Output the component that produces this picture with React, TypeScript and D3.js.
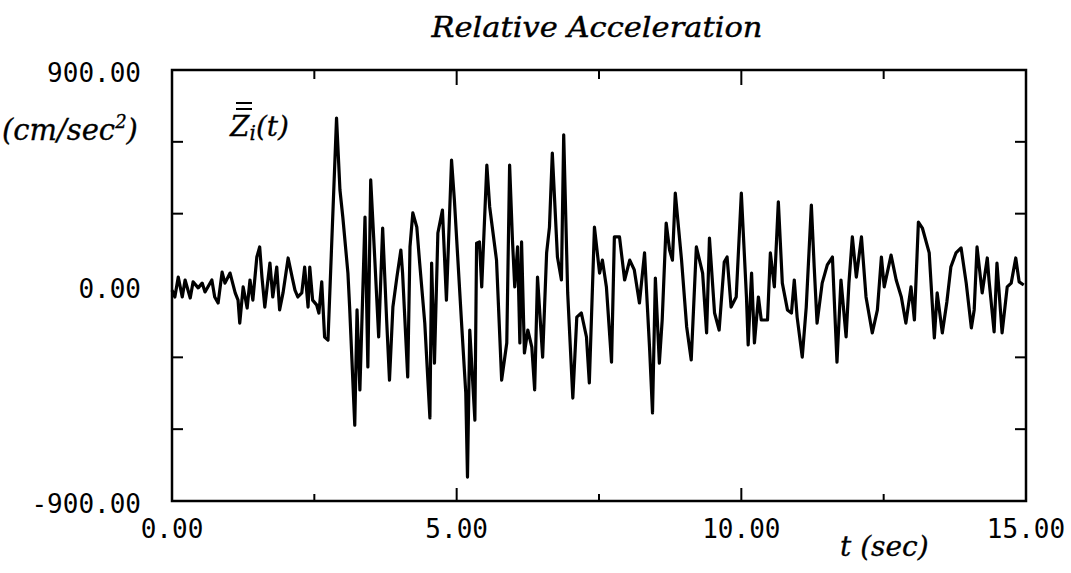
import React from "react";
import * as d3 from "d3";

// time (sec) of each read-off point
const times: number[] = [
  0.0, 0.05, 0.11, 0.18, 0.23, 0.32, 0.37, 0.46, 0.53, 0.58, 0.7, 0.75, 0.81, 0.88, 0.93, 1.02, 1.11, 1.16, 1.19, 1.25,
  1.32, 1.37, 1.42, 1.49, 1.54, 1.58, 1.63, 1.72, 1.77, 1.84, 1.89, 1.95, 2.04, 2.11, 2.16, 2.21, 2.28, 2.33, 2.39, 2.42,
  2.47, 2.54, 2.58, 2.63, 2.68, 2.74, 2.89, 2.95, 3.0, 3.09, 3.12, 3.21, 3.25, 3.3, 3.39, 3.44, 3.49, 3.56, 3.63, 3.7,
  3.77, 3.82, 3.88, 3.95, 4.02, 4.05, 4.14, 4.18, 4.23, 4.3, 4.35, 4.44, 4.53, 4.56, 4.61, 4.67, 4.75, 4.82, 4.91, 4.96,
  5.09, 5.16, 5.19, 5.23, 5.32, 5.35, 5.4, 5.44, 5.53, 5.58, 5.7, 5.79, 5.88, 5.93, 5.98, 6.02, 6.07, 6.11, 6.14, 6.19,
  6.25, 6.32, 6.37, 6.42, 6.51, 6.58, 6.63, 6.68, 6.77, 6.84, 6.88, 6.95, 7.04, 7.11, 7.19, 7.28, 7.33, 7.42, 7.51, 7.56,
  7.63, 7.72, 7.77, 7.86, 7.95, 8.04, 8.12, 8.21, 8.3, 8.39, 8.44, 8.49, 8.56, 8.61, 8.68, 8.74, 8.79, 8.84, 8.95, 9.04,
  9.12, 9.21, 9.32, 9.39, 9.44, 9.53, 9.61, 9.7, 9.75, 9.82, 9.91, 10.0, 10.09, 10.12, 10.18, 10.23, 10.3, 10.35, 10.46, 10.51,
  10.58, 10.65, 10.72, 10.81, 10.88, 10.93, 10.98, 11.07, 11.14, 11.23, 11.28, 11.33, 11.42, 11.51, 11.6, 11.68, 11.75, 11.84, 11.89, 11.95,
  12.02, 12.11, 12.19, 12.3, 12.39, 12.46, 12.51, 12.63, 12.72, 12.81, 12.89, 12.98, 13.04, 13.11, 13.18, 13.3, 13.39, 13.44, 13.53, 13.61,
  13.68, 13.77, 13.86, 13.95, 14.04, 14.09, 14.14, 14.23, 14.32, 14.35, 14.44, 14.49, 14.58, 14.67, 14.74, 14.82, 14.88, 14.96,
];

// relative acceleration (cm/sec^2) at each time
const accel: number[] = [
  -19, -48, 35, -48, 23, -52, 15, -10, 10, -27, 23, -48, -73, 56, 10, 52, -31, -61, -157, -6,
  -94, 23, -61, 119, 161, 35, -90, 94, -48, 77, -102, -31, 115, 35, -19, -48, -31, 77, -90, 77,
  -61, -81, -115, 15, -215, -228, 699, 399, 286, 52, -90, -583, -102, -436, 286, -340, 441, 119, -215, 240,
  -144, -395, -90, 35, 148, 52, -382, 161, 303, 244, 94, -157, -553, 94, -324, 219, 315, -61, 524, 357,
  -173, -449, -800, -186, -562, 177, 182, -6, 503, 328, 106, -395, -240, 503, 190, -6, 161, -240, 182, -282,
  -186, -257, -436, 35, -299, 136, 244, 553, 119, 23, 629, -31, -470, -132, -115, -215, -407, 244, 52, 106,
  -6, -320, 203, 203, 23, 106, 65, -73, 136, -270, -532, 31, -324, -144, 261, 148, 106, 386, 106, -173,
  -311, 161, 52, -198, 198, -115, -186, 98, 119, -90, -48, 386, -48, -248, 52, -240, -48, -144, -144, 136,
  -6, 349, 10, -102, -115, 23, -132, -299, -90, 336, 77, -157, 10, 86, 119, -320, 23, -215, 10, 203,
  35, 203, -48, -198, -102, 119, -6, 127, 23, -48, -157, -6, -144, 265, 240, 136, -219, -31, -198, -69,
  77, 136, 157, 10, -177, -102, 161, -31, 115, 23, -194, 94, -198, -6, 10, 115, 15, 2,
];

const xTickValues: number[] = [0, 2.5, 5, 7.5, 10, 12.5, 15];
const xTickLabels: { v: number; label: string }[] = [
  { v: 0, label: "0.00" },
  { v: 5, label: "5.00" },
  { v: 10, label: "10.00" },
  { v: 15, label: "15.00" },
];
const yTickValues: number[] = [-600, -300, 300, 600];
const yTickLabels: { v: number; label: string }[] = [
  { v: 900, label: "900.00" },
  { v: 0, label: "0.00" },
  { v: -900, label: "-900.00" },
];

const W = 1071;
const H = 573;
const L = 172;
const R = 1026;
const T = 70;
const B = 501;

export default function App() {
  const x = d3.scaleLinear().domain([0, 15]).range([L, R]);
  const y = d3.scaleLinear().domain([-900, 900]).range([B, T]);
  const data = times.map((t, i) => [t, accel[i]] as [number, number]);
  const line = d3
    .line<[number, number]>()
    .x((d) => x(d[0]))
    .y((d) => y(d[1]));

  const mono = "'DejaVu Sans Mono', monospace";
  const serif = "'DejaVu Serif', serif";

  return (
    <svg width={W} height={H} style={{ position: "absolute", left: 0, top: 0, background: "#fff" }}>
      <rect x={0} y={0} width={W} height={H} fill="#fff" />
      {/* title */}
      <text x={597} y={37} textAnchor="middle" fontFamily={serif} fontStyle="italic" fontSize={28} textLength={331} lengthAdjust="spacingAndGlyphs" fill="#000" stroke="#000" strokeWidth={0.4}>
        Relative Acceleration
      </text>

      {/* data line */}
      <path d={line(data) || ""} fill="none" stroke="#000" strokeWidth={3.2} strokeLinejoin="round" />

      {/* frame */}
      <rect x={L} y={T} width={R - L} height={B - T} fill="none" stroke="#000" strokeWidth={2.5} />

      {/* x ticks top & bottom */}
      {xTickValues.slice(1, -1).map((v) => {
        const major = v % 5 === 0;
        const len = major ? 15 : 9;
        return (
          <g key={"xt" + v}>
            <line x1={x(v)} x2={x(v)} y1={T} y2={T + len} stroke="#000" strokeWidth={2} />
            <line x1={x(v)} x2={x(v)} y1={B} y2={B - (major ? 13 : 7)} stroke="#000" strokeWidth={2} />
          </g>
        );
      })}
      {/* y ticks left & right */}
      {yTickValues.map((v) => (
        <g key={"yt" + v}>
          <line x1={L} x2={L + 11} y1={y(v)} y2={y(v)} stroke="#000" strokeWidth={2} />
          <line x1={R} x2={R - 11} y1={y(v)} y2={y(v)} stroke="#000" strokeWidth={2} />
        </g>
      ))}

      {/* x labels */}
      {xTickLabels.map((d) => (
        <text key={"xl" + d.v} x={x(d.v)} y={538} textAnchor="middle" fontFamily={mono} fontSize={26} fill="#000">
          {d.label}
        </text>
      ))}
      {/* y labels */}
      {yTickLabels.map((d) => (
        <text key={"yl" + d.v} x={141} y={y(d.v) + 12} textAnchor="end" fontFamily={mono} fontSize={26} fill="#000">
          {d.label}
        </text>
      ))}

      {/* y unit */}
      <text x={2} y={140} fontFamily={serif} fontStyle="italic" fontSize={29} fill="#000" stroke="#000" strokeWidth={0.3}>
        (cm/sec<tspan dy={-12} fontSize={18}>2</tspan><tspan dy={12}>)</tspan>
      </text>

      {/* series label Z double-bar sub i (t) */}
      <g>
        <line x1={236} x2={252} y1={103} y2={103} stroke="#000" strokeWidth={2} />
        <line x1={236} x2={252} y1={109} y2={109} stroke="#000" strokeWidth={2} />
        <text x={230} y={136} fontFamily={serif} fontStyle="italic" fontSize={28} fill="#000" stroke="#000" strokeWidth={0.3}>
          Z<tspan dy={4} fontSize={20}>i</tspan><tspan dy={-4}>(t)</tspan>
        </text>
      </g>

      {/* x axis title */}
      <text x={840} y={556} fontFamily={serif} fontStyle="italic" fontSize={28} fill="#000" stroke="#000" strokeWidth={0.3}>
        t (sec)
      </text>
    </svg>
  );
}
